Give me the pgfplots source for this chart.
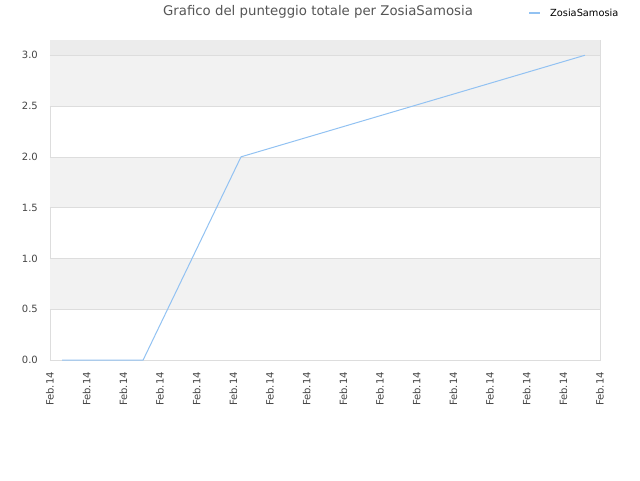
\documentclass[border=0pt]{standalone}
\usepackage{pgfplots}
\pgfplotsset{compat=1.18}
\usepackage{fontspec}
\setmainfont{DejaVu Sans}
\definecolor{bandgray}{HTML}{F2F2F2}
\definecolor{topgray}{HTML}{ECECEC}
\definecolor{gridgray}{HTML}{DDDDDD}
\definecolor{linecol}{HTML}{92C2F2}
\definecolor{textgray}{HTML}{444444}
\definecolor{titlegray}{HTML}{555555}
\begin{document}
\begin{tikzpicture}[x=1pt,y=1pt]
\useasboundingbox (0,0) rectangle (640,480);
\begin{axis}[
  at={(50pt,120pt)}, anchor=south west,
  scale only axis, width=550pt, height=320pt,
  xmin=0, xmax=15, ymin=0, ymax=3.15,
  xtick={0,...,15},
  xticklabels={Feb.14,Feb.14,Feb.14,Feb.14,Feb.14,Feb.14,Feb.14,Feb.14,Feb.14,Feb.14,Feb.14,Feb.14,Feb.14,Feb.14,Feb.14,Feb.14},
  x tick label style={rotate=90, anchor=east, font=\fontsize{10}{12}\selectfont, text=textgray, inner sep=0pt, xshift=-12pt},
  ytick={0,0.5,...,3.0},
  yticklabel style={font=\fontsize{10}{12}\selectfont, text=textgray, inner sep=0pt, xshift=-12pt, /pgf/number format/.cd, fixed, fixed zerofill, precision=1},
  /pgf/number format/assume math mode=true,
  ymajorgrids, grid style={gridgray, line width=0.6pt},
  major tick length=0pt,
  axis line style={gridgray, line width=0.8pt},
  clip=false,
]
\fill[bandgray] (axis cs:0,0.5) rectangle (axis cs:15,1.0);
\fill[bandgray] (axis cs:0,1.5) rectangle (axis cs:15,2.0);
\fill[bandgray] (axis cs:0,2.5) rectangle (axis cs:15,3.0);
\fill[topgray] (axis cs:0,3.0) rectangle (axis cs:15,3.15);
\draw[gridgray, line width=0.6pt] (axis cs:0,0.5) -- (axis cs:15,0.5);
\draw[gridgray, line width=0.6pt] (axis cs:0,1.0) -- (axis cs:15,1.0);
\draw[gridgray, line width=0.6pt] (axis cs:0,1.5) -- (axis cs:15,1.5);
\draw[gridgray, line width=0.6pt] (axis cs:0,2.0) -- (axis cs:15,2.0);
\draw[gridgray, line width=0.6pt] (axis cs:0,2.5) -- (axis cs:15,2.5);
\draw[gridgray, line width=0.6pt] (axis cs:0,3.0) -- (axis cs:15,3.0);
\addplot[linecol, line width=1pt, mark=none] coordinates {
  (0.33,0) (2.54,0) (5.21,2.0) (14.59,3.0)
};
\end{axis}
\node[anchor=center, text=titlegray, font=\fontsize{13.3}{15}\selectfont] at (318,468) {Grafico del punteggio totale per ZosiaSamosia};
\draw[linecol, line width=1.2pt] (529,467) -- (540,467);
\node[anchor=west, text=black, font=\fontsize{9.8}{11}\selectfont, inner sep=0pt] at (550,467.5) {ZosiaSamosia};
\end{tikzpicture}
\end{document}
